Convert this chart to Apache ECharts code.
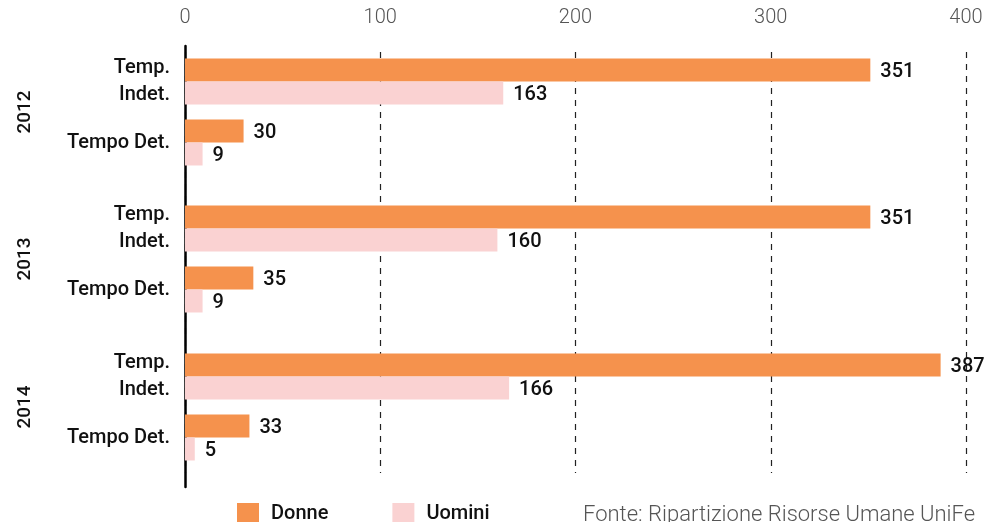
<!DOCTYPE html>
<html>
<head>
<meta charset="utf-8">
<script src="https://cdn.jsdelivr.net/npm/echarts@6/dist/echarts.min.js"></script>
<style>
  html, body { margin: 0; padding: 0; background: #fff; }
  #chart { width: 987px; height: 522px; }
</style>
</head>
<body>
<div id="chart"></div>
<script>
const years = ['2012', '2013', '2014']
const contracts = ['Temp.\nIndet.', 'Tempo Det.']
// one pair per year: [Temp. Indet., Tempo Det.]
const donne = [[351, 30], [351, 35], [387, 33]]
const uomini = [[163, 9], [160, 9], [166, 5]]
const xTicks = [0, 100, 200, 300, 400]

const ORANGE = '#f5924d'
const PINK = '#fad2d2'
const FONT = 'Roboto'

const chart = echarts.init(document.getElementById('chart'), null, { renderer: 'canvas' })

// each year gets its own grid so the gap between years can be wider
const yearTops = [51, 198, 346]
const yearHeight = 122

const grids = [
  { left: 185, right: 21, top: 52, bottom: 49 },   // dashed grid lines + top labels
  { left: 185, right: 21, top: 46, bottom: 35 }    // black vertical axis line
]
const xAxes = [
  {
    gridIndex: 0, type: 'value', position: 'top', min: xTicks[0], max: xTicks[xTicks.length - 1], interval: 100,
    axisLine: { show: false }, axisTick: { show: false },
    axisLabel: { margin: 24, color: '#555', fontFamily: FONT, fontSize: 20, fontWeight: 300 },
    splitLine: { show: true, lineStyle: { color: '#222', type: [6, 6], width: 1.2 } }
  },
  { gridIndex: 1, type: 'value', show: false, min: 0, max: 400 }
]
const yAxes = [
  { gridIndex: 0, type: 'category', show: false, data: ['a'] },
  {
    gridIndex: 1, type: 'category', data: ['a'],
    axisLine: { show: true, lineStyle: { color: '#000', width: 2.5 } },
    axisTick: { show: false }, axisLabel: { show: false }, splitLine: { show: false }
  }
]
const series = []

const valueLabel = {
  show: true, position: 'right', distance: 10, offset: [0, 2],
  color: '#111', fontFamily: FONT, fontSize: 20, fontWeight: 500
}

years.forEach((year, i) => {
  const g = grids.length
  grids.push({ left: 185, right: 21, top: yearTops[i], height: yearHeight })
  xAxes.push({ gridIndex: g, type: 'value', show: false, min: 0, max: 400 })
  yAxes.push({
    gridIndex: g, type: 'category', inverse: true, data: contracts,
    name: year, nameLocation: 'middle', nameRotate: 90, nameGap: 150,
    nameTextStyle: { color: '#111', fontFamily: FONT, fontSize: 19, fontWeight: 500 },
    axisLine: { show: false }, axisTick: { show: false },
    axisLabel: {
      margin: 15, color: '#111', fontFamily: FONT, fontSize: 20, fontWeight: 500,
      lineHeight: 27, align: 'right', padding: [6, 0, 0, 0]
    }
  })
  series.push({
    name: 'Donne', type: 'bar', xAxisIndex: g, yAxisIndex: g,
    data: donne[i], barWidth: 23, barGap: '0%',
    itemStyle: { color: ORANGE }, label: valueLabel
  })
  series.push({
    name: 'Uomini', type: 'bar', xAxisIndex: g, yAxisIndex: g,
    data: uomini[i], barWidth: 23, barGap: '0%',
    itemStyle: { color: PINK }, label: valueLabel
  })
})

chart.setOption({
  animation: false,
  title: {
    text: 'Fonte: Ripartizione Risorse Umane UniFe',
    left: 578, top: 499,
    textStyle: { color: '#555', fontFamily: FONT, fontSize: 22, fontWeight: 300 }
  },
  legend: {
    data: ['Donne', 'Uomini'], left: 232, top: 498,
    icon: 'rect', itemWidth: 22, itemHeight: 22, itemGap: 64,
    textStyle: { color: '#111', fontFamily: FONT, fontSize: 20, fontWeight: 500, padding: [0, 0, 0, 7] }
  },
  grid: grids,
  xAxis: xAxes,
  yAxis: yAxes,
  series
})
</script>
</body>
</html>
